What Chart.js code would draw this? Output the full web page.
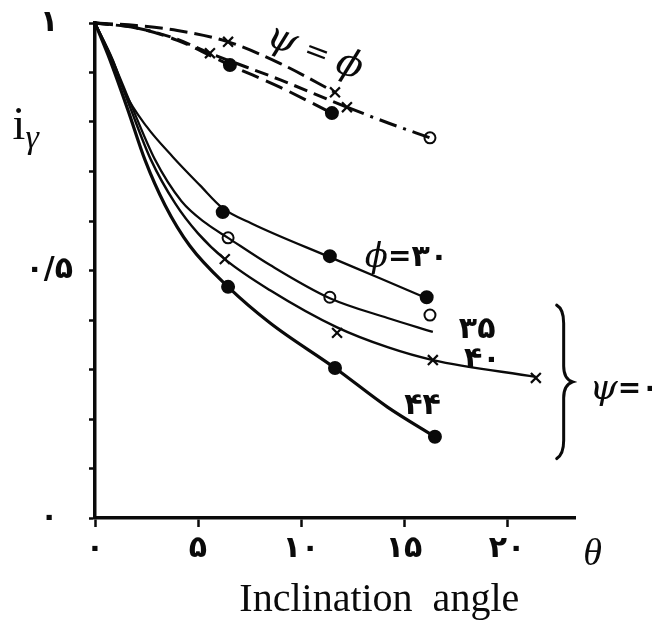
<!DOCTYPE html>
<html><head><meta charset="utf-8">
<script src="https://cdn.jsdelivr.net/npm/chart.js@4.4.0/dist/chart.umd.min.js"></script>
<style>html,body{margin:0;padding:0;background:#fff;}canvas{display:block;}</style>
</head><body>
<canvas id="c" width="652" height="639"></canvas>
<script>
// ---------- tick values / labels ----------
const xTickValues = [0, 5, 10, 15, 20];
const xTickLabels = ["۰", "۵", "۱۰", "۱۵", "۲۰"];
const yTickValues = [0, 0.1, 0.2, 0.3, 0.4, 0.5, 0.6, 0.7, 0.8, 0.9, 1];
const yTickLabels = ["۰", "", "", "", "", "۰/۵", "", "", "", "", "۱"];

// ---------- psi = 0 fitted curves (phi = 30, 35, 40, 44) ----------
const curve30X = [0, 0.87, 1.46, 2.52, 3.79, 5.1, 6.2, 7.6, 11.4, 13.8, 16.1];
const curve30Y = [1, 0.925, 0.859, 0.79, 0.729, 0.672, 0.626, 0.595, 0.527, 0.485, 0.444];
const curve35X = [0, 0.85, 1.8, 2.9, 4.2, 5.4, 6.46, 8.5, 11.4, 14.2, 16.4];
const curve35Y = [1, 0.925, 0.83, 0.725, 0.64, 0.595, 0.566, 0.511, 0.444, 0.404, 0.376];
const curve40X = [0, 0.83, 1.7, 2.7, 3.9, 5.0, 6.3, 8.5, 11.75, 14.2, 16.4, 21.4];
const curve40Y = [1, 0.925, 0.83, 0.725, 0.635, 0.575, 0.523, 0.46, 0.385, 0.345, 0.319, 0.285];
const curve44X = [0, 0.73, 1.6, 2.43, 3.4, 4.6, 6.46, 8.5, 11.65, 14.2, 16.5];
const curve44Y = [1, 0.925, 0.824, 0.723, 0.632, 0.55, 0.467, 0.394, 0.303, 0.224, 0.164];

// ---------- psi = 0 measured points ----------
const pts30X = [6.2, 11.4, 16.1];          const pts30Y = [0.618, 0.529, 0.446];
const pts35X = [6.46, 11.4, 16.26];        const pts35Y = [0.566, 0.446, 0.41];
const pts40X = [6.3, 11.75, 16.4, 21.4];   const pts40Y = [0.523, 0.374, 0.319, 0.283];
const pts44X = [6.46, 11.65, 16.5];        const pts44Y = [0.467, 0.303, 0.164];

// ---------- psi = phi curves (dashed) ----------
const dashAX = [0, 2, 4, 6.46, 9, 11.65];
const dashAY = [1, 0.995, 0.985, 0.962, 0.918, 0.86];
const dashBX = [0, 2, 3.8, 5.58, 9, 12.23, 14.3, 16.26];
const dashBY = [1, 0.99, 0.97, 0.939, 0.885, 0.83, 0.797, 0.768];
const dashCX = [0, 2, 4, 6.55, 9, 11.5];
const dashCY = [1, 0.99, 0.965, 0.915, 0.87, 0.818];

// ---------- psi = phi measured points ----------
const ptsAX = [6.46, 11.65];   const ptsAY = [0.962, 0.86];
const ptsBX = [5.58, 12.23];   const ptsBY = [0.939, 0.83];
const ptsBoX = [16.26];        const ptsBoY = [0.768];
const ptsCX = [6.55, 11.5];    const ptsCY = [0.915, 0.818];

const pts = (xs, ys) => xs.map((v, i) => ({x: v, y: ys[i]}));

const INK = '#0a0a0a';
const lineDS = (xs, ys, w, dash) => ({
  data: pts(xs, ys), showLine: true, pointRadius: 0, borderColor: INK,
  borderWidth: w, borderDash: dash || [], cubicInterpolationMode: 'monotone', fill: false, clip: false
});
const markDS = (xs, ys, style, r, filled) => ({
  data: pts(xs, ys), showLine: false, pointStyle: style, pointRadius: r,
  pointBorderWidth: style === 'crossRot' ? 2.2 : 2, borderColor: INK,
  pointBorderColor: INK, pointBackgroundColor: filled ? INK : '#fff', clip: false
});

const dashB = lineDS(dashBX, dashBY, 3, [14, 7]);
dashB.segment = { borderDash: c => (c.p0DataIndex >= 5 ? [18, 7, 3, 7] : [14, 7]) };

const datasets = [
  lineDS(curve30X, curve30Y, 2.2),
  lineDS(curve35X, curve35Y, 2.2),
  lineDS(curve40X, curve40Y, 2.4),
  lineDS(curve44X, curve44Y, 3.2),
  lineDS(dashAX, dashAY, 3, [18, 7]),
  dashB,
  lineDS(dashCX, dashCY, 3, [18, 8]),
  markDS(pts30X, pts30Y, 'circle', 6, true),
  markDS(pts35X, pts35Y, 'circle', 5.5, false),
  markDS(pts40X, pts40Y, 'crossRot', 7, false),
  markDS(pts44X, pts44Y, 'circle', 6, true),
  markDS(ptsAX, ptsAY, 'crossRot', 7, false),
  markDS(ptsBX, ptsBY, 'crossRot', 7, false),
  markDS(ptsBoX, ptsBoY, 'circle', 5.5, false),
  markDS(ptsCX, ptsCY, 'circle', 6, true)
];

// ---------- text annotations (positions in data units) ----------
const SERIF = '"Liberation Serif", "DejaVu Serif", serif';
const GSERIF = '"DejaVu Serif", serif';
const DIG = 'bold 30px "DejaVu Sans"';
const annotations = [
  {x: -4.0, y: 0.79, runs: [{t: 'i', f: '46px ' + SERIF}, {t: 'γ', f: 'italic 34px ' + SERIF, dy: 12}]},
  {x: 24.15, y: -0.075, align: 'center', runs: [{t: 'θ', f: 'italic 38px ' + SERIF}]},
  {x: 13.8, y: -0.166, align: 'center', runs: [{t: 'Inclination  angle', f: '40px ' + SERIF}]},
  {x: 8.4, y: 0.975, rot: 0.36, runs: [{t: 'ψ', f: 'italic 38px ' + GSERIF}, {t: ' = ', f: '30px ' + GSERIF}, {t: 'ϕ', f: 'italic 38px ' + GSERIF}]},
  {x: 13.1, y: 0.525, runs: [{t: 'ϕ', f: 'italic 34px ' + GSERIF}, {t: '=', f: 'bold 28px "DejaVu Sans"'}, {t: '۳۰', f: DIG}]},
  {x: 18.55, y: 0.38, align: 'center', runs: [{t: '۳۵', f: DIG}]},
  {x: 18.8, y: 0.318, align: 'center', runs: [{t: '۴۰', f: DIG}]},
  {x: 15.9, y: 0.225, align: 'center', runs: [{t: '۴۴', f: DIG}]},
  {x: 24.0, y: 0.26, runs: [{t: 'ψ', f: 'italic 36px ' + GSERIF}, {t: '=', f: 'bold 28px "DejaVu Sans"'}, {t: '۰', f: DIG}]}
];
const brace = {x: 22.75, yTop: 0.43, yBottom: 0.12};

const annotPlugin = {
  id: 'annot',
  afterDatasetsDraw(chart) {
    const {ctx, scales: {x, y}} = chart;
    ctx.save();
    ctx.fillStyle = INK;
    ctx.textBaseline = 'middle';
    ctx.textAlign = 'left';
    annotations.forEach(a => {
      ctx.save();
      ctx.translate(x.getPixelForValue(a.x), y.getPixelForValue(a.y));
      ctx.rotate(a.rot || 0);
      let total = 0;
      a.runs.forEach(r => { ctx.font = r.f; total += ctx.measureText(r.t).width; });
      let cx = a.align === 'center' ? -total / 2 : 0;
      a.runs.forEach(r => {
        ctx.font = r.f;
        ctx.fillText(r.t, cx, r.dy || 0);
        cx += ctx.measureText(r.t).width;
      });
      ctx.restore();
    });
    // curly brace
    const bx = x.getPixelForValue(brace.x);
    const y1 = y.getPixelForValue(brace.yTop), y2 = y.getPixelForValue(brace.yBottom);
    const ym = (y1 + y2) / 2;
    ctx.strokeStyle = INK; ctx.lineWidth = 3; ctx.lineCap = 'round';
    ctx.beginPath();
    ctx.moveTo(bx - 7, y1);
    ctx.quadraticCurveTo(bx, y1 + 4, bx, y1 + 18);
    ctx.lineTo(bx, ym - 16);
    ctx.quadraticCurveTo(bx, ym - 3, bx + 9, ym);
    ctx.quadraticCurveTo(bx, ym + 3, bx, ym + 16);
    ctx.lineTo(bx, y2 - 18);
    ctx.quadraticCurveTo(bx, y2 - 4, bx - 7, y2);
    ctx.stroke();
    ctx.restore();
  }
};

new Chart(document.getElementById('c'), {
  type: 'scatter',
  data: { datasets },
  options: {
    responsive: false,
    animation: false,
    events: [],
    layout: { padding: { top: 23, right: 77, bottom: 0, left: 0 } },
    plugins: { legend: { display: false }, tooltip: { enabled: false } },
    scales: {
      x: {
        type: 'linear', min: 0, max: 23.3,
        afterBuildTicks: s => { s.ticks = xTickValues.map(v => ({value: v})); },
        afterFit: s => { s.height = 121; s.paddingLeft = 0; s.paddingRight = 0; },
        ticks: {
          callback: (v) => xTickLabels[xTickValues.indexOf(v)] ?? '',
          font: { family: 'DejaVu Sans', size: 30, weight: 'bold' },
          color: INK, padding: 4, maxRotation: 0, autoSkip: false
        },
        grid: { drawOnChartArea: false, drawTicks: true, tickLength: 9, tickWidth: 2.5, tickColor: INK },
        border: { display: true, color: INK, width: 3.5 }
      },
      y: {
        type: 'linear', min: 0, max: 1,
        afterBuildTicks: s => { s.ticks = yTickValues.map(v => ({value: v})); },
        afterFit: s => { s.width = 95; s.paddingTop = 0; s.paddingBottom = 0; },
        ticks: {
          callback: (v) => yTickLabels[yTickValues.findIndex(t => Math.abs(t - v) < 1e-6)] ?? '',
          font: { family: 'DejaVu Sans', size: 30, weight: 'bold' },
          color: INK, padding: 16, crossAlign: 'center', autoSkip: false
        },
        grid: { drawOnChartArea: false, drawTicks: true, tickLength: 6, tickWidth: 2.5, tickColor: INK },
        border: { display: true, color: INK, width: 3.5 }
      }
    }
  },
  plugins: [annotPlugin]
});
</script>
</body></html>
